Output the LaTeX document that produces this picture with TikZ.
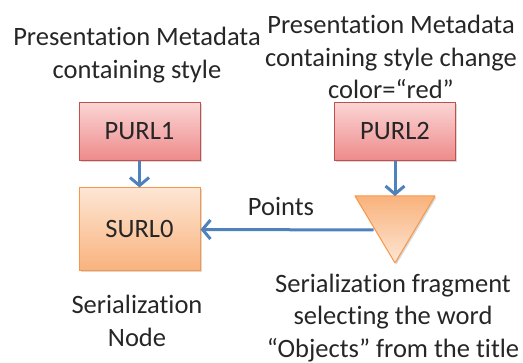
\documentclass[tikz,border=0pt]{standalone}
\usepackage{fontspec}
\setmainfont{Carlito}[Ligatures=NoCommon]
\usetikzlibrary{arrows.meta,shadows}
\definecolor{redtop}{HTML}{FBD5D5}
\definecolor{redbot}{HTML}{EE8A8A}
\definecolor{redline}{HTML}{C0504D}
\definecolor{orgtop}{HTML}{FDE6D4}
\definecolor{orgbot}{HTML}{F9B27C}
\definecolor{orgline}{HTML}{F79646}
\definecolor{arrowblue}{HTML}{4F81BD}
\definecolor{txt}{HTML}{262626}
\tikzset{
  x=1pt, y=1pt,
  every node/.style={text=txt, font=\fontsize{26.5}{32.5}\selectfont},
  redbox/.style={draw=redline, line width=1pt, top color=redtop, bottom color=redbot,
    minimum width=121pt, minimum height=58pt, inner sep=0pt,
    drop shadow={shadow xshift=1.5pt, shadow yshift=-1.5pt, opacity=0.3}},
  orgbox/.style={draw=orgline, line width=1pt, top color=orgtop, bottom color=orgbot,
    minimum width=121pt, minimum height=83pt, inner sep=0pt,
    drop shadow={shadow xshift=1.5pt, shadow yshift=-1.5pt, opacity=0.3}},
  caption/.style={align=center, inner sep=0pt},
  link/.style={draw=arrowblue, line width=3pt,
    -{Straight Barb[length=8pt, width=19pt, line width=3pt]}},
}
\begin{document}
\begin{tikzpicture}
\useasboundingbox (0,0) rectangle (523,363);
% boxes
\node[redbox] (purl1) at (139.5,231.5) {PURL1};
\node[redbox] (purl2) at (395,231.5) {PURL2};
\node[orgbox] (surl0) at (139.5,133.5) {SURL0};
% inverted triangle for the fragment
\coordinate (tl) at (355,167);
\coordinate (tr) at (435,167);
\coordinate (tb) at (395,100);
\shade[top color=orgbot, bottom color=orgtop, drop shadow={shadow xshift=1.5pt, shadow yshift=-1.5pt, opacity=0.3}]
  (tl) -- (tr) -- (tb) -- cycle;
\draw[orgline, line width=1pt, line join=round] (tl) -- (tr) -- (tb) -- cycle;
\coordinate (fragtop) at (395,167);
\coordinate (fragleft) at (373.5,133);
% connectors
\draw[link] (purl1.south) -- (surl0.north);
\draw[link] (purl2.south) -- (fragtop);
\draw[link] (fragleft) -- (surl0.east);
\node[inner sep=0pt] (points) at (281,157) {Points};
% captions
\node[caption] (cap1) at (137,308) {Presentation Metadata\\containing style};
\node[caption] (cap2) at (391,306) {Presentation Metadata\\containing style change\\color=“red”};
\node[caption] (cap3) at (137,42) {Serialization\\Node};
\node[caption] (cap4) at (393,45) {Serialization fragment\\selecting the word\\“Objects” from the title};
\end{tikzpicture}
\end{document}
